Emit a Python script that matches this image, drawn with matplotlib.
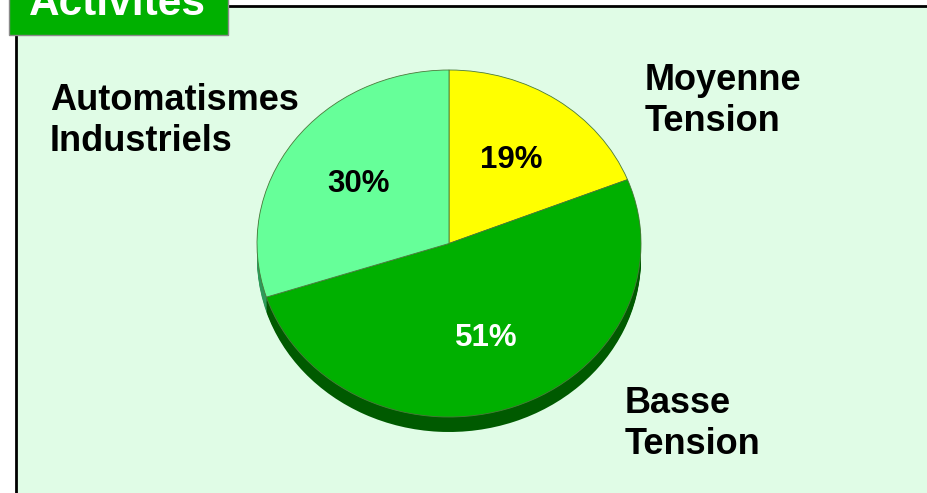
import matplotlib.pyplot as plt
from matplotlib.patches import Rectangle

# data
categories = ['Moyenne\nTension', 'Basse\nTension', 'Automatismes\nIndustriels']
shares = [19, 51, 30]
colors = ['#FFFF00', '#00B000', '#66FF99']
shadow_colors = ['#A0A000', '#005A00', '#2E9A5A']
pct_colors = ['black', 'white', 'black']
title = 'Activités'

plt.rcParams['font.family'] = ['Liberation Sans', 'DejaVu Sans']

W, H = 927, 493
fig = plt.figure(figsize=(W / 100, H / 100), dpi=100)
fig.patch.set_facecolor('white')

# background axes in pixel coordinates
bg = fig.add_axes([0, 0, 1, 1])
bg.set_xlim(0, W)
bg.set_ylim(H, 0)
bg.axis('off')
bg.add_patch(Rectangle((16, 6), W, H, facecolor='#E0FCE6', edgecolor='none', zorder=0))
bg.plot([16, 16], [6, H + 5], color='black', lw=2.0, zorder=1)
bg.plot([16, W + 5], [6, 6], color='black', lw=2.0, zorder=1)

# title box
bg.add_patch(Rectangle((9, -5), 219, 40, facecolor='#00B000', edgecolor='#8A8A8A', lw=1.0, zorder=2))
bg.text(29, 15, title, color='white', fontsize=30.5, fontweight='bold',
        ha='left', va='baseline', zorder=3)

# category labels
label_x = [645, 625, 50]
label_y = [63, 386, 83]
for lab, lx, ly in zip(categories, label_x, label_y):
    bg.text(lx, ly, lab, fontsize=26, fontweight='bold', color='black',
            ha='left', va='top', linespacing=1.22)

# pie axes (elliptical pie, radius 192 x 173.5 px, center 449,243.5)
cx, cy, rx, ry = 449, 243.5, 192, 173.5
ylo = -1.2
h_px = (1 - ylo) * ry
ax = fig.add_axes([(cx - rx) / W, (H - (cy - ry) - h_px) / H, 2 * rx / W, h_px / H])
ax.set_facecolor('none')
ax.axis('off')

depth = 15 / ry
n = 12
for k in range(n, 0, -1):
    off = depth * k / n
    ax.pie(shares, colors=shadow_colors, startangle=90, counterclock=False,
           center=(0, -off), radius=1, wedgeprops=dict(linewidth=0))

wedges, _, autotexts = ax.pie(shares, colors=colors, startangle=90, counterclock=False,
                              autopct='%d%%', pctdistance=0.58,
                              wedgeprops=dict(edgecolor='#4A7A3A', linewidth=0.6),
                              textprops=dict(fontsize=22.5, fontweight='bold'))
for t, c in zip(autotexts, pct_colors):
    t.set_color(c)

ax.set_aspect('auto')
ax.set_xlim(-1, 1)
ax.set_ylim(ylo, 1)

fig.savefig('out.png', dpi=100)
